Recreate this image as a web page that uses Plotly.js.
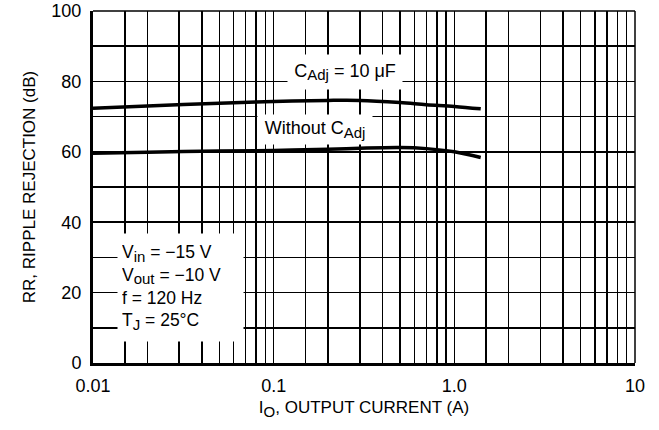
<!DOCTYPE html>
<html>
<head>
<meta charset="utf-8">
<script src="https://cdn.plot.ly/plotly-3.0.1.min.js"></script>
<style>html,body{margin:0;padding:0;background:#fff;}#chart{width:659px;height:430px;}</style>
</head>
<body>
<div id="chart"></div>
<script>
// Data
var currentA = [0.01, 0.02, 0.05, 0.1, 0.2, 0.3, 0.5, 0.7, 1.0, 1.4];
var rrWithCadj = [72.4, 73.0, 73.8, 74.3, 74.6, 74.6, 74.0, 73.4, 72.9, 72.2];
var rrWithoutCadj = [59.6, 59.9, 60.2, 60.4, 60.7, 61.0, 61.2, 60.9, 60.0, 58.4];

// Axis grid / tick definitions
var xTickVals = [0.01, 0.1, 1, 10];
var xTickText = ['0.01', '0.1', '1.0', '10'];
var xGridVals = [0.015,0.02,0.03,0.04,0.05,0.06,0.07,0.08,0.09,
                 0.15,0.2,0.3,0.4,0.5,0.6,0.7,0.8,0.9,
                 1.5,2,3,4,5,6,7,8,9];
var yTickVals = [0, 20, 40, 60, 80, 100];
var yTickText = ['0', '20', '40', '60', '80', '100'];
var yGridVals = [10, 30, 50, 70, 90];

var FONT = 'Liberation Sans, Arial, Helvetica, sans-serif';
function sub(t){ return '<sub><span style="font-size:15px">' + t + '</span></sub>'; }

var traces = [
  {x: currentA, y: rrWithCadj, mode: 'lines', line: {color: '#000', width: 3.5, shape: 'spline'}, hoverinfo: 'skip'},
  {x: currentA, y: rrWithoutCadj, mode: 'lines', line: {color: '#000', width: 3.5, shape: 'spline'}, hoverinfo: 'skip'}
];

var gridStyle = {showgrid: true, gridcolor: '#000', gridwidth: 1.5, ticks: ''};

var layout = {
  width: 659, height: 430,
  margin: {l: 93, r: 24, t: 11, b: 67},
  paper_bgcolor: '#fff', plot_bgcolor: '#fff',
  showlegend: false,
  font: {family: FONT, size: 17, color: '#000'},
  xaxis: {
    type: 'log', range: [-2, 1],
    tickmode: 'array', tickvals: xTickVals, ticktext: xTickText,
    showgrid: true, gridcolor: '#000', gridwidth: 1.5,
    minor: Object.assign({tickmode: 'array', tickvals: xGridVals}, gridStyle),
    showline: true, linecolor: '#000', linewidth: 3,
    ticks: '', ticklabelstandoff: 4,
    zeroline: false,
    tickfont: {family: FONT, size: 18, color: '#000'},
    title: {text: 'I' + sub('O') + ', OUTPUT CURRENT (A)', font: {family: FONT, size: 17, color: '#000'}, standoff: 7}
  },
  yaxis: {
    range: [0, 100],
    tickmode: 'array', tickvals: yTickVals, ticktext: yTickText,
    showgrid: true, gridcolor: '#000', gridwidth: 1.5,
    minor: Object.assign({tickmode: 'array', tickvals: yGridVals}, gridStyle),
    showline: true, linecolor: '#000', linewidth: 3,
    ticks: '', ticklabelstandoff: 5,
    zeroline: false,
    tickfont: {family: FONT, size: 18, color: '#000'},
    title: {text: 'RR, RIPPLE REJECTION (dB)', font: {family: FONT, size: 17, color: '#000'}, standoff: 12}
  },
  shapes: [
    {type: 'line', xref: 'paper', yref: 'paper', x0: 0, x1: 1, y0: 1, y1: 1, line: {color: '#000', width: 1.5}},
    {type: 'line', xref: 'paper', yref: 'paper', x0: 1, x1: 1, y0: 0, y1: 1, line: {color: '#000', width: 1.5}}
  ],
  annotations: [
    {xref: 'paper', yref: 'paper', x: 0.465, y: 0.827, xanchor: 'center', yanchor: 'middle',
     text: 'C' + sub('Adj') + ' = 10 μF', showarrow: false, bgcolor: '#fff', width: 112, height: 32, borderpad: 1,
     font: {family: FONT, size: 18, color: '#000'}},
    {xref: 'paper', yref: 'paper', x: 0.41, y: 0.663, xanchor: 'center', yanchor: 'middle',
     text: 'Without C' + sub('Adj'), showarrow: false, bgcolor: '#fff', width: 112, height: 27, borderpad: 1,
     font: {family: FONT, size: 18, color: '#000'}},
    {xref: 'paper', yref: 'paper', x: 0.161, y: 0.2145, xanchor: 'center', yanchor: 'middle', align: 'left',
     text: 'V' + sub('in') + ' = −15 V<br>V' + sub('out') + ' = −10 V<br>f = 120 Hz<br>T' + sub('J') + ' = 25°C',
     showarrow: false, bgcolor: '#fff', width: 117, height: 99, borderpad: 4,
     font: {family: FONT, size: 17.5, color: '#000'}}
  ]
};

Plotly.newPlot('chart', traces, layout, {staticPlot: true, displayModeBar: false});
</script>
</body>
</html>
